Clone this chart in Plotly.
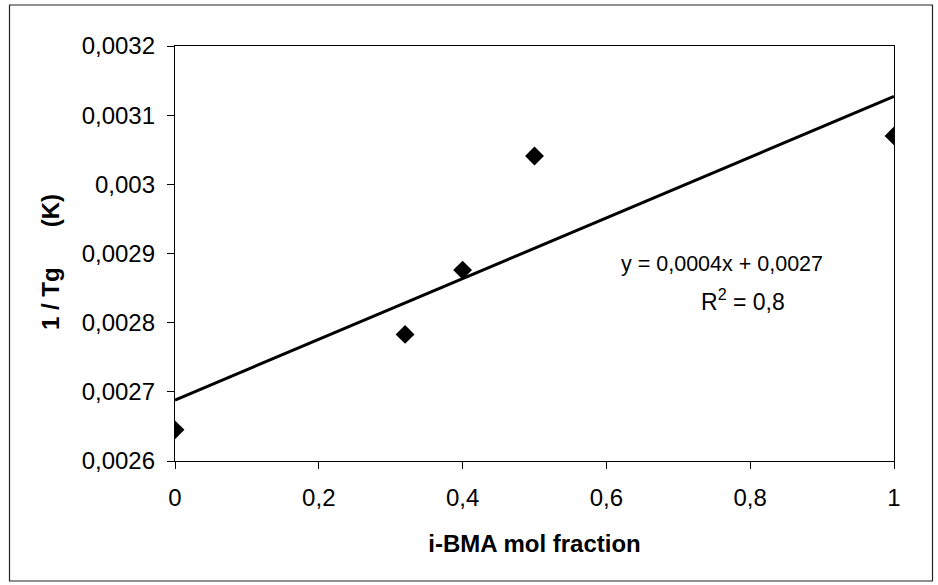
import numpy as np
import plotly.graph_objects as go

# Measured glass-transition data: i-BMA mole fraction vs reciprocal Tg
mol_fraction = [0.0, 0.32, 0.40, 0.50, 1.0]
inv_tg = [0.002645, 0.002783, 0.002876, 0.003041, 0.003070]

x_tickvals = [0, 0.2, 0.4, 0.6, 0.8, 1]
x_ticktext = ["0", "0,2", "0,4", "0,6", "0,8", "1"]
y_tickvals = [0.0026, 0.0027, 0.0028, 0.0029, 0.0030, 0.0031, 0.0032]
y_ticktext = ["0,0026", "0,0027", "0,0028", "0,0029", "0,003", "0,0031", "0,0032"]

equation_text = "y = 0,0004x + 0,0027"
r2_text = "R<sup>2</sup> = 0,8"
x_title = "<b>i-BMA mol fraction</b>"
y_title = "<b>1 / Tg" + "\u00a0" * 6 + "(K)</b>"

# Linear least-squares trendline over the full x range
slope, intercept = np.polyfit(mol_fraction, inv_tg, 1)
fit_x = np.array([0.0, 1.0])
fit_y = slope * fit_x + intercept

FONT = "Liberation Sans, Arial, sans-serif"
W, H = 938, 585
L, R, T, B = 175, 44, 46, 124

fig = go.Figure()
fig.add_trace(go.Scatter(
    x=fit_x, y=fit_y, mode="lines",
    line=dict(color="black", width=3),
    hoverinfo="skip", showlegend=False,
))
fig.add_trace(go.Scatter(
    x=mol_fraction, y=inv_tg, mode="markers",
    marker=dict(symbol="diamond", size=14.5, color="black",
                line=dict(width=0)),
    showlegend=False,
))

def px_to_paper_x(px):
    return (px - L) / (W - L - R)

def px_to_paper_y(py):
    return (H - B - py) / (H - T - B)

# Outer chart-area frame
fig.add_shape(
    type="rect", xref="paper", yref="paper",
    x0=px_to_paper_x(9.5), x1=px_to_paper_x(932.5),
    y0=px_to_paper_y(581), y1=px_to_paper_y(5),
    line=dict(color="#222222", width=1.2), layer="below",
)

# Trendline equation and R²
fig.add_annotation(
    x=px_to_paper_x(722), y=px_to_paper_y(264), xref="paper", yref="paper",
    xanchor="center", yanchor="middle",
    text=equation_text, showarrow=False,
    font=dict(family=FONT, size=21.5, color="black"),
)
fig.add_annotation(
    x=px_to_paper_x(743), y=px_to_paper_y(300), xref="paper", yref="paper",
    xanchor="center", yanchor="middle",
    text=r2_text, showarrow=False,
    font=dict(family=FONT, size=23, color="black"),
)

# Vertical axis title
fig.add_annotation(
    x=px_to_paper_x(50), y=px_to_paper_y(262), xref="paper", yref="paper",
    xanchor="center", yanchor="middle", textangle=-90,
    text=y_title, showarrow=False,
    font=dict(family=FONT, size=24, color="black"),
)

axis_common = dict(
    showgrid=False, zeroline=False, showline=True, mirror=True,
    linecolor="black", linewidth=1.3,
    ticks="outside", ticklen=7, tickwidth=1, tickcolor="black",
    tickfont=dict(family=FONT, size=24, color="black"),
)

fig.update_xaxes(
    range=[0, 1], tickvals=x_tickvals, ticktext=x_ticktext,
    ticklabelstandoff=8,
    title=dict(text=x_title, standoff=25,
               font=dict(family=FONT, size=24, color="black")),
    **axis_common,
)
fig.update_yaxes(
    range=[0.0026, 0.0032], tickvals=y_tickvals, ticktext=y_ticktext,
    ticklabelstandoff=7,
    **axis_common,
)

fig.update_layout(
    width=W, height=H,
    margin=dict(l=L, r=R, t=T, b=B, pad=0),
    paper_bgcolor="white", plot_bgcolor="white",
    font=dict(family=FONT, color="black"),
)

fig.write_html("out.html")
